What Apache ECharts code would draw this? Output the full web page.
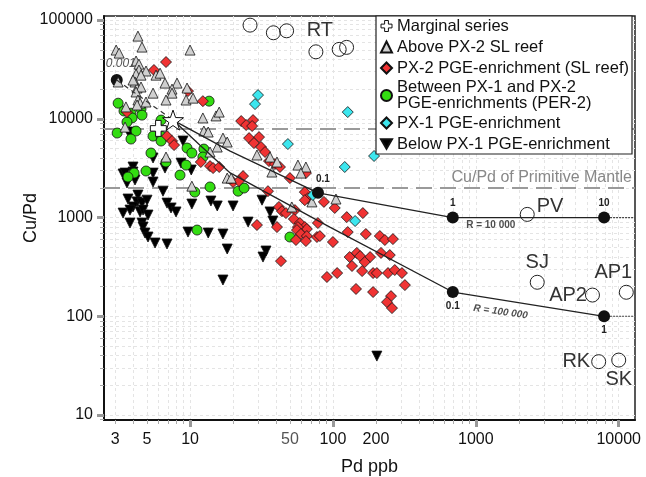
<!DOCTYPE html>
<html><head><meta charset="utf-8">
<script src="https://cdn.jsdelivr.net/npm/echarts@6/dist/echarts.min.js"></script>
<style>html,body{margin:0;padding:0;background:#fff}#c{width:646px;height:477px}</style>
</head><body><div id="c"></div>
<script>
const FF = '"Liberation Sans", Arial, Helvetica, sans-serif';
// ---------------- data (Pd ppb, Cu/Pd) ----------------
const aboveSL = [[4.32,68800],[4.61,53300],[3.04,49700],[3.19,46300],[10,49700],[4.19,38500],[4.39,35800],[4.39,31200],[4.92,30500],[4.19,28400],[4.54,27700],[5.78,27700],[6.17,29000],[3.14,23600],[4.12,23600],[6.68,23000],[8.11,23000],[7.48,20000],[7.48,18200],[4.26,20500],[4.54,21000],[4.19,18700],[5.51,18200],[6.79,15500],[9.38,15500],[10.5,16200],[4.32,15500],[4.47,14400],[4.92,14800],[3.56,13200],[4.26,13800],[9.53,20500],[12.3,10200],[15.2,10700],[16.0,11700],[12.5,7520],[13.4,7350],[17.0,6380],[18.2,5820],[15.5,5180],[13.8,4610],[29.4,4300],[36.3,4100],[40.6,3650],[37.4,2890],[56.9,3400],[64.7,3250],[59.7,2820],[71.3,1440],[105,1540],[51.6,1280],[6.79,4100],[10.3,2080],[18.2,2510],[19.4,2510],[3.51,8240],[3.99,24700]];
const px2Reef = [[6.79,37600],[5.59,31200],[9.68,19100],[12.3,15100],[3.62,11700],[6.90,6680],[7.48,5960],[7.73,5420],[22.8,9490],[24.7,8650],[27.6,9710],[27.2,8450],[25.9,6380],[30.4,6530],[28.0,5680],[31.4,5180],[33.5,4610],[35.7,3730],[39.3,3480],[42.6,3250],[11.9,3650],[13.8,3320],[14.5,3170],[16.0,3250],[23.5,2630],[20.0,2290],[22.0,2340],[35.1,1850],[50.0,2510],[64.7,2820],[63.6,1810],[66.8,1570],[63.6,1500],[86.5,1440],[103,1250],[41.9,1280],[44.0,1160],[46.9,1110],[54.2,1190],[53.3,966],[58.7,880],[63.6,801],[65.7,765],[56.9,801],[40.6,801],[29.4,840],[78.5,880],[125,1010],[162,1110],[127,713],[170,681],[56.0,747],[59.7,681],[65.7,650],[77.3,635],[81.0,650],[100,565],[55.1,592],[64.7,578],[213,650],[231,592],[263,605],[217,438],[250,417],[131,398],[147,438],[155,407],[182,398],[167,354],[136,323],[160,287],[191,274],[203,274],[243,274],[271,294],[304,274],[319,207],[145,189],[191,176],[255,160],[239,139],[259,121],[43.3,362],[90.8,250],[107,274]];
const per2 = [[3.14,14400],[3.45,12000],[3.86,11400],[4.54,12600],[4.61,10900],[3.93,10200],[3.62,9270],[3.09,7180],[4.19,7520],[3.86,6240],[5.51,6680],[6.27,6680],[6.27,5960],[6.27,9710],[9.53,5060],[10.3,4500],[12.5,4940],[12.3,4100],[5.33,4500],[6.79,3650],[9.38,3400],[4.92,2960],[4.06,2820],[3.68,2570],[8.51,2690],[10.8,1810],[13.8,2040],[21.7,1850],[23.9,1990],[11.2,747],[50.0,635],[13.6,15100]];
const px1 = [[29.9,17400],[28.5,14100],[127,11700],[48.4,5550],[194,4200],[121,3250],[72.4,1690],[143,922]];
const belowPx1 = [[3.80,6850],[3.99,7350],[8.93,5960],[5.51,4010],[6.68,3170],[8.65,3560],[10.2,3030],[3.99,3250],[3.40,2760],[3.99,2890],[3.51,2820],[3.62,2240],[4.12,2400],[5.51,2290],[5.51,2820],[4.32,1690],[3.68,1540],[4.26,1440],[4.61,1400],[5.00,1500],[3.99,1280],[3.40,1110],[3.80,1190],[4.47,1140],[4.69,1190],[5.08,1060],[3.80,880],[4.61,880],[4.69,801],[4.84,697],[5.08,635],[5.69,552],[6.90,540],[6.47,1850],[6.90,1400],[7.36,1250],[7.98,1140],[9.68,713],[10.3,1370],[13.4,697],[14.0,1470],[15.5,1310],[17.0,681],[18.2,480],[20.0,1310],[17.0,233],[25.5,900],[31.9,1500],[36.3,1140],[38.0,922],[34.0,458],[32.4,398],[203,39.5]];
const marginal = [[6.0,8000]];
const startComp = [[7.6,9710]];
const rtPd = [26.3,38.3,47.4,76,110.6,124.6];
const rtCuPd = [88900,74400,77900,47700,50500,52900];
const siteNames = ['PV','SJ','AP2','AP1','RK','SK'];
const sitePd = [2290,2690,6550,11300,7240,10000];
const siteCuPd = [1076,221,164,175,34.7,36];
const r1Pd = [7.6,19.1,78.6,690,7900];
const r1CuPd = [9710,4700,1780,1000,1000];
const r2Pd = [7.6,11.7,19.1,95.2,690,7900];
const r2CuPd = [9710,5420,2830,801,176,100];
const r1MarkLbl = ['0.1','1','10'];
const r1MarkPd = [78.6,690,7900];
const r1MarkCuPd = [1780,1000,1000];
const r2MarkLbl = ['0.1','1'];
const r2MarkPd = [690,7900];
const r2MarkCuPd = [176,100];
const dilPd = [3.07,7.6];
const dilCuPd = [24700,9710];
const upperRefCuPd = 8000;
const mantleCuPd = 2000;
const xTickLabels = [3,5,10,50,100,200,1000,10000];
const yTickLabels = [10,100,1000,10000,100000];
const X_MIN = 2.5, X_MAX = 13000, Y_MIN = 8.9, Y_MAX = 110000;
// ------------------------------------------------------
const L = Math.log10;
const toL = arr => arr.map(p => [L(p[0]), L(p[1])]);
const zipL = (xs, ys) => xs.map((x, i) => [L(x), L(ys[i])]);
function logSteps(lo, hi, all) {
  const out = [];
  for (let e = -1; e <= 6; e++) for (let k = 1; k <= 9; k++) {
    if (!all && k !== 1) continue;
    const v = k * Math.pow(10, e);
    if (v >= lo && v <= hi) out.push(L(v));
  }
  return out;
}
const fmt = v => String(Math.round(Math.pow(10, v)));
const chart = echarts.init(document.getElementById('c'), null, {renderer: 'canvas'});
const edge = '#111';
const sc = (name, data, symbol, size, color, extra) => Object.assign({
  name, type: 'scatter', data: toL(data), symbol, symbolSize: size, z: 2,
  itemStyle: {color, borderColor: edge, borderWidth: 0.8, opacity: 1}
}, extra || {});
const crossPath = 'path://M-1.1,-3.2L1.1,-3.2L1.1,-1.1L3.2,-1.1L3.2,1.1L1.1,1.1L1.1,3.2L-1.1,3.2L-1.1,1.1L-3.2,1.1L-3.2,-1.1L-1.1,-1.1Z';
const starPath = 'path://M0,-10L2.35,-3.24L9.51,-3.09L3.8,1.24L5.88,8.09L0,4L-5.88,8.09L-3.8,1.24L-9.51,-3.09L-2.35,-3.24Z';
const downTri = 'path://M-5,-4.3L5,-4.3L0,4.3Z';
const siteLabel = {
  PV: {position: 'right', distance: 2, offset: [0, -8]},
  SJ: {position: 'top', distance: 2},
  AP2: {position: 'left', distance: -2},
  AP1: {position: 'top', distance: 2, offset: [-13, 0]},
  RK: {position: 'left', distance: 1},
  SK: {position: 'bottom', distance: 2}
};
const bigLbl = {show: true, fontSize: 20, color: '#333', fontFamily: FF};
const dotLbl = {show: true, fontSize: 10, fontWeight: 'bold', color: '#222', fontFamily: FF};
const option = {
  animation: false,
  backgroundColor: '#fff',
  grid: {left: 104, top: 16, width: 531, height: 404, containLabel: false, outerBoundsMode: 'none',
    show: true, borderColor: '#222', borderWidth: 1.5, backgroundColor: 'transparent'},
  legend: {
    left: 376, top: 16, orient: 'vertical', z: 10, backgroundColor: '#fff', borderColor: '#222', borderWidth: 1.2,
    padding: [0, 3, 0, 4], itemGap: 1, itemWidth: 11, itemHeight: 11,
    textStyle: {fontSize: 16.5, color: '#111', fontFamily: FF, lineHeight: 20, rich: {a: {fontSize: 16.5, lineHeight: 16, fontFamily: FF, color: '#111'}}},
    formatter: n => n.indexOf('\n') >= 0 ? n.split('\n').map(s => '{a|' + s + '}').join('\n') : n,
    data: [{name: 'Marginal series', itemStyle: {color: '#fff', borderColor: '#111', borderWidth: 1}},
      'Above PX-2 SL reef', 'PX-2 PGE-enrichment (SL reef)', 'Between PX-1 and PX-2\nPGE-enrichments (PER-2)', 'PX-1 PGE-enrichment', 'Below PX-1 PGE-enrichment']
  },
  xAxis: [{
    type: 'value', min: L(X_MIN), max: L(X_MAX), position: 'bottom',
    name: 'Pd ppb', nameLocation: 'middle', nameGap: 38, nameMoveOverlap: false,
    nameTextStyle: {fontSize: 18, color: '#111', fontFamily: FF},
    axisLine: {show: true, onZero: false, lineStyle: {color: '#111', width: 2}},
    axisTick: {show: true, customValues: logSteps(X_MIN, X_MAX, true), length: 4, lineStyle: {color: '#aaa', width: 1}},
    axisLabel: {customValues: xTickLabels.map(L), fontSize: 16, color: '#111', fontFamily: FF, margin: 12,
      formatter: v => { const s = fmt(v); return s === '50' ? '{g|50}' : s; },
      rich: {g: {fontSize: 16, color: '#555', fontFamily: FF}}},
    splitLine: {show: true, lineStyle: {color: '#e4e4e4', type: [3, 3], width: 1}}
  }, {
    type: 'value', min: L(X_MIN), max: L(X_MAX), position: 'bottom',
    axisLine: {show: false}, axisLabel: {show: false}, splitLine: {show: false},
    axisTick: {show: true, customValues: logSteps(X_MIN, X_MAX, false), length: 7, lineStyle: {color: '#999', width: 3}}
  }],
  yAxis: [{
    type: 'value', min: L(Y_MIN), max: L(Y_MAX), position: 'left',
    name: 'Cu/Pd', nameLocation: 'middle', nameGap: 64, nameMoveOverlap: false,
    nameTextStyle: {fontSize: 18, color: '#111', fontFamily: FF},
    axisLine: {show: true, onZero: false, lineStyle: {color: '#111', width: 2}},
    axisTick: {show: true, customValues: logSteps(Y_MIN, Y_MAX, true), length: 4, lineStyle: {color: '#aaa', width: 1}},
    axisLabel: {customValues: yTickLabels.map(L), fontSize: 16, color: '#111', fontFamily: FF, margin: 11, formatter: fmt},
    splitLine: {show: true, lineStyle: {color: '#e4e4e4', type: [3, 3], width: 1}}
  }, {
    type: 'value', min: L(Y_MIN), max: L(Y_MAX), position: 'left',
    axisLine: {show: false}, axisLabel: {show: false}, splitLine: {show: false},
    axisTick: {show: true, customValues: logSteps(Y_MIN, Y_MAX, false), length: 7, lineStyle: {color: '#999', width: 3}}
  }],
  series: [
    {name: 'refLines', type: 'line', data: [], z: 1, silent: true,
      markLine: {z: 1, symbol: 'none', silent: true, lineStyle: {color: '#9a9a9a', type: [16, 8], width: 2},
        data: [{yAxis: L(upperRefCuPd), label: {show: false}},
               {yAxis: L(mantleCuPd), label: {show: true, position: 'insideEndTop', distance: [3, 2], formatter: 'Cu/Pd of Primitive Mantle', color: '#888', fontSize: 16, fontFamily: FF}}]}},
    {name: 'mix0', type: 'scatter', data: zipL(dilPd.slice(0, 1), dilCuPd.slice(0, 1)), symbol: 'circle', symbolSize: 12, z: 2,
      itemStyle: {color: '#111', opacity: 1},
      label: {show: true, formatter: '0.001', position: 'top', distance: 4, offset: [4, 0], fontSize: 12, fontStyle: 'italic', color: '#555', fontFamily: FF}},
    sc('Below PX-1 PGE-enrichment', belowPx1, downTri, 10, '#000'),
    sc('Between PX-1 and PX-2\nPGE-enrichments (PER-2)', per2, 'circle', 10, '#33dd11'),
    sc('PX-2 PGE-enrichment (SL reef)', px2Reef, 'diamond', 11, '#f03333'),
    sc('Above PX-2 SL reef', aboveSL, 'triangle', 10, '#d0d0d0'),
    sc('PX-1 PGE-enrichment', px1, 'diamond', 11, '#3ce6ee'),
    {name: 'dilution', type: 'line', data: zipL(dilPd, dilCuPd), showSymbol: false, symbol: 'none', z: 3, silent: true,
      lineStyle: {color: '#333', width: 1.2, type: [5, 4]}},
    {name: 'R1e4', type: 'line', data: zipL(r1Pd, r1CuPd), showSymbol: false, symbol: 'none', z: 3, silent: true,
      lineStyle: {color: '#222', width: 1.3}},
    {name: 'R1e5', type: 'line', data: zipL(r2Pd, r2CuPd), showSymbol: false, symbol: 'none', z: 3, silent: true,
      lineStyle: {color: '#222', width: 1.3}},
    {name: 'R1e4ext', type: 'line', data: zipL([r1Pd[r1Pd.length - 1], X_MAX], [r1CuPd[r1CuPd.length - 1], r1CuPd[r1CuPd.length - 1]]), showSymbol: false, symbol: 'none', z: 3, silent: true,
      lineStyle: {color: '#444', width: 1.2, type: [2, 1]}},
    {name: 'R1e5ext', type: 'line', data: zipL([r2Pd[r2Pd.length - 1], X_MAX], [r2CuPd[r2CuPd.length - 1], r2CuPd[r2CuPd.length - 1]]), showSymbol: false, symbol: 'none', z: 3, silent: true,
      lineStyle: {color: '#444', width: 1.2, type: [2, 1]}},
    {name: 'R1e4dots', type: 'scatter', z: 4, symbol: 'circle', symbolSize: 12, itemStyle: {color: '#111', opacity: 1},
      data: r1MarkPd.map((x, i) => ({value: [L(x), L(r1MarkCuPd[i])], label: Object.assign({}, dotLbl, {position: 'top', distance: 3, formatter: r1MarkLbl[i], offset: i === 0 ? [5, 0] : [0, 0]})}))},
    {name: 'R1e5dots', type: 'scatter', z: 4, symbol: 'circle', symbolSize: 12, itemStyle: {color: '#111', opacity: 1},
      data: r2MarkPd.map((x, i) => ({value: [L(x), L(r2MarkCuPd[i])], label: Object.assign({}, dotLbl, {position: 'bottom', distance: 3, formatter: r2MarkLbl[i]})}))},
    {name: 'Rlabels', type: 'scatter', z: 4, symbolSize: 0, silent: true,
      data: [
        {value: [L(r1MarkPd[1]), L(r1MarkCuPd[1])], label: Object.assign({}, dotLbl, {position: 'inside', formatter: 'R = 10 000', offset: [38, 8]})},
        {value: [L(r2MarkPd[0]), L(r2MarkCuPd[0])], label: Object.assign({}, dotLbl, {position: 'inside', formatter: 'R = 100 000', fontStyle: 'italic', rotate: -8, offset: [50, 13]})}
      ]},
    sc('Marginal series', marginal, crossPath, 16, '#fff', {z: 5, symbolKeepAspect: true, itemStyle: {color: '#fff', borderColor: '#111', borderWidth: 1, opacity: 1}}),
    {name: 'start', type: 'scatter', z: 5, data: toL(startComp), symbol: starPath, symbolSize: 21, symbolKeepAspect: true,
      itemStyle: {color: '#fff', borderColor: '#111', borderWidth: 1, opacity: 1}},
    {name: 'RT', type: 'scatter', z: 3, symbol: 'circle', symbolSize: 14,
      itemStyle: {color: 'rgba(0,0,0,0)', borderColor: '#222', borderWidth: 1, opacity: 1},
      data: rtPd.map((x, i) => ({value: [L(x), L(rtCuPd[i])], label: i === 3 ? Object.assign({}, bigLbl, {position: 'top', distance: 4, offset: [4, 0], formatter: 'RT'}) : {show: false}}))},
    {name: 'sites', type: 'scatter', z: 3, symbol: 'circle', symbolSize: 14,
      itemStyle: {color: 'rgba(0,0,0,0)', borderColor: '#222', borderWidth: 1, opacity: 1},
      data: sitePd.map((x, i) => ({value: [L(x), L(siteCuPd[i])], label: Object.assign({}, bigLbl, siteLabel[siteNames[i]], {formatter: siteNames[i]})}))}
  ]
};
chart.setOption(option);
</script>
</body></html>
